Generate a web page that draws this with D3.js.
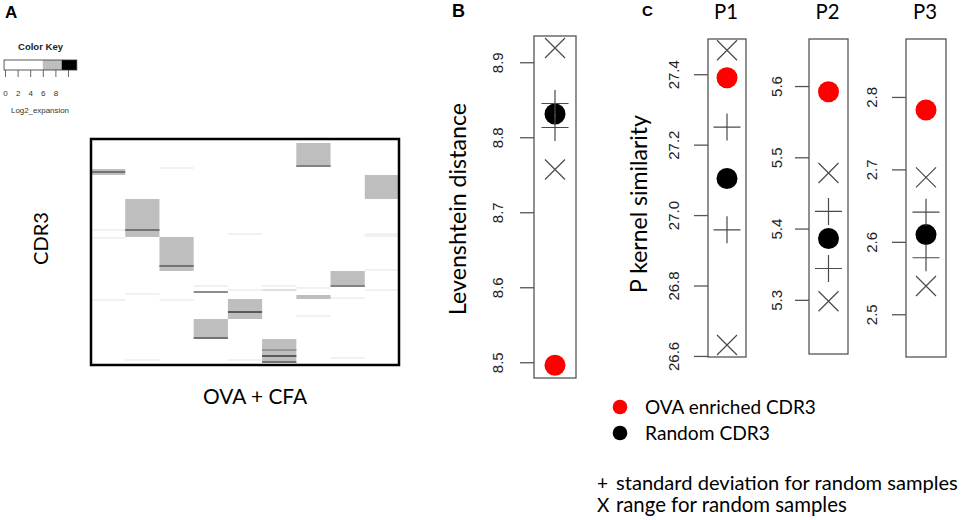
<!DOCTYPE html>
<html><head><meta charset="utf-8">
<script src="https://cdn.jsdelivr.net/npm/d3@7"></script>
<style>body{margin:0;background:#fff}svg{display:block}</style>
</head><body><svg id="c" width="965" height="520"></svg>
<script>
// ================= DATA =================
// Panel A: heatmap of CDR3 clonotypes (rows) per sample column
const heatColumns = 9;
const heatRows = 113;
// stripes: [column, firstRow, endRow(exclusive), log2 expansion]
const heatStripes = [
  [0,45,46,4],[0,49,50,4],[0,80,81,4],[0,15,18,7],[0,16,17,8.5],
  [1,77,78,4],[1,110,111,4],[1,30,49,7],[1,45,46,8.5],
  [2,14,15,4],[2,80,81,4],[2,49,66,7],[2,63,64,8.5],
  [3,73,74,4],[3,76,77,8],[3,90,100,7],[3,99,100,8.5],
  [4,47,48,4],[4,75,76,4],[4,110,111,4],[4,80,90,7],[4,86,87,9],
  [5,73,74,4],[5,75,76,5],[5,100,112,7],[5,105,106,7.8],[5,108,109,9],[5,111,112,8.5],
  [6,74,75,4],[6,88,89,4],[6,2,14,7],[6,78,80,7],[6,13,14,8.2],
  [7,79,80,4],[7,109,110,4],[7,66,74,7],[7,73,74,8.2],
  [8,47,48,4],[8,48,49,4],[8,65,66,4],[8,75,76,4],[8,18,30,7]
];
const keyBreaks = [-0.15, 6, 9, 11.4];
const keyTicks = [0, 2, 4, 6, 8, 10];
const keyTickLabels = ["0", "2", "4", "6", "8", ""];

// Panels B and C: dot plots
const panelTitles = ["", "P1", "P2", "P3"];
const ovaEnriched = [8.496, 27.390, 5.592, 2.782];
const randomMean  = [8.831, 27.104, 5.386, 2.610];
const sdUpper     = [8.845, 27.250, 5.424, 2.641];
const sdLower     = [8.813, 26.958, 5.344, 2.578];
const rangeMax    = [8.919, 27.468, 5.478, 2.689];
const rangeMin    = [8.757, 26.631, 5.298, 2.539];
const axisLow     = [8.479, 26.597, 5.224, 2.441];
const axisHigh    = [8.935, 27.500, 5.666, 2.880];
const panelTicks  = [
  [8.5, 8.6, 8.7, 8.8, 8.9],
  [26.6, 26.8, 27.0, 27.2, 27.4],
  [5.3, 5.4, 5.5, 5.6],
  [2.5, 2.6, 2.7, 2.8]
];
const legendLabels = ["OVA enriched CDR3", "Random CDR3"];
const noteSymbols = ["+", "X"];
const noteLabels = ["standard deviation for random samples", "range for random samples"];

// ================= DRAWING =================
const svg = d3.select("#c");
svg.append("rect").attr("width",965).attr("height",520).attr("fill","#fff");
const SANS = "Lato, 'Open Sans', sans-serif";
const ARIAL = "'Liberation Sans', Arial, sans-serif";

function fit(sel, target){
  const w = sel.node().getComputedTextLength();
  const fs = parseFloat(sel.attr("font-size"));
  sel.attr("font-size", (fs*target/w).toFixed(2));
  return sel;
}

// ---- Panel letters ----
svg.append("text").attr("x",5).attr("y",18).attr("font-family",ARIAL).attr("font-weight","bold").attr("font-size",17).text("A");
svg.append("text").attr("x",452).attr("y",17).attr("font-family",ARIAL).attr("font-weight","bold").attr("font-size",18).text("B");
svg.append("text").attr("x",642).attr("y",16).attr("font-family",ARIAL).attr("font-weight","bold").attr("font-size",15).text("C");

// ---- Color key ----
const kx = d3.scaleLinear().domain([0,10]).range([5,68]);
const keyColors = ["#ffffff","#bebebe","#000000"];
const keyG = svg.append("g");
keyG.selectAll("rect.seg").data(d3.range(keyBreaks.length-1)).join("rect")
  .attr("class","seg")
  .attr("x",i=>kx(keyBreaks[i])).attr("width",i=>kx(keyBreaks[i+1])-kx(keyBreaks[i]))
  .attr("y",60).attr("height",10).attr("fill",i=>keyColors[i]);
keyG.append("rect").attr("x",kx(keyBreaks[0])).attr("y",60)
  .attr("width",kx(keyBreaks[keyBreaks.length-1])-kx(keyBreaks[0])).attr("height",10)
  .attr("fill","none").attr("stroke","#333").attr("stroke-width",0.8);
const keyAxis = keyG.append("g").attr("transform","translate(0,70)")
  .call(d3.axisBottom(kx).tickValues(keyTicks).tickSize(7).tickPadding(13)
        .tickFormat((d,i)=>keyTickLabels[i]));
keyAxis.select(".domain").remove();
keyAxis.selectAll(".tick line").attr("stroke","#444").attr("stroke-width",0.8);
keyAxis.selectAll(".tick text").attr("font-size",8).attr("font-family",ARIAL).attr("fill","#333");
const ck = svg.append("text").attr("x",40.5).attr("y",50).attr("text-anchor","middle")
  .attr("font-family",ARIAL).attr("font-weight","bold").attr("font-size",9).attr("fill","#222").text("Color Key");
fit(ck,45);
const lg = svg.append("text").attr("x",11).attr("y",113)
  .attr("font-family",ARIAL).attr("font-size",8).attr("fill","#333").text("Log2_expansion");
fit(lg,58);

// ---- Heatmap ----
const hx = d3.scaleBand().domain(d3.range(heatColumns)).range([91,399]);
const hy = d3.scaleLinear().domain([0,heatRows]).range([139,365]);
const heatColor = d3.scaleLinear().domain([0,4,7,9])
  .range(["#ffffff","#f1f1f1","#bebebe","#5a5a5a"]);
const stripes = heatStripes.map(s=>({c:s[0],r0:s[1],r1:s[2],v:s[3]}))
  .sort((a,b)=>a.v-b.v);
svg.append("g").selectAll("rect").data(stripes).join("rect")
  .attr("x",d=>hx(d.c)).attr("width",hx.bandwidth())
  .attr("y",d=>hy(d.r0)).attr("height",d=>hy(d.r1)-hy(d.r0))
  .attr("fill",d=>heatColor(d.v));
svg.append("rect").attr("x",hx.range()[0]).attr("y",hy.range()[0])
  .attr("width",hx.range()[1]-hx.range()[0]).attr("height",hy.range()[1]-hy.range()[0])
  .attr("fill","none").attr("stroke","#000").attr("stroke-width",2.5);
const cdr = svg.append("text").attr("transform","translate(48,238.5) rotate(-90)")
  .attr("text-anchor","middle").attr("font-family",SANS).attr("font-size",22).text("CDR3");
fit(cdr,53);
const ova = svg.append("text").attr("x",255).attr("y",404).attr("text-anchor","middle")
  .attr("font-family",SANS).attr("font-size",20).text("OVA + CFA");
fit(ova,104);

// ---- Dot plot panels ----
const layout = [
  {x0:534,x1:576,y0:36,y1:378,off:31},
  {x0:708,x1:746,y0:39,y1:357,off:29},
  {x0:809,x1:848,y0:39,y1:354,off:27},
  {x0:906,x1:946,y0:39,y1:357,off:29}
];
const GRAY = "#4a4a4a";
layout.forEach((L,i)=>{
  const y = d3.scaleLinear().domain([axisLow[i],axisHigh[i]]).range([L.y1,L.y0]);
  const cx = (L.x0+L.x1)/2;
  const g = svg.append("g");
  g.append("rect").attr("x",L.x0).attr("y",L.y0).attr("width",L.x1-L.x0).attr("height",L.y1-L.y0)
    .attr("fill","none").attr("stroke","#555").attr("stroke-width",1.3);
  const ax = g.append("g").attr("transform",`translate(${L.x0},0)`)
    .call(d3.axisLeft(y).tickValues(panelTicks[i]).tickSize(14).tickFormat(d3.format(".1f")));
  ax.select(".domain").remove();
  ax.selectAll(".tick line").attr("stroke","#555").attr("stroke-width",1.3);
  ax.selectAll(".tick text").attr("x",null).attr("dy",null)
    .attr("transform",`translate(${-L.off},0) rotate(-90)`)
    .attr("text-anchor","middle").attr("font-family",ARIAL).attr("font-size",15).attr("fill","#222");
  // range X markers
  [rangeMax[i],rangeMin[i]].forEach(v=>{
    const s=10, yy=y(v);
    g.append("path").attr("d",`M${cx-s},${yy-s}L${cx+s},${yy+s}M${cx-s},${yy+s}L${cx+s},${yy-s}`)
      .attr("stroke",GRAY).attr("stroke-width",1.2).attr("fill","none");
  });
  // dots
  g.append("circle").attr("cx",cx).attr("cy",y(ovaEnriched[i])).attr("r",10.5).attr("fill","#ff0000");
  g.append("circle").attr("cx",cx).attr("cy",y(randomMean[i])).attr("r",10.5).attr("fill","#000");
  // sd + markers
  [sdUpper[i],sdLower[i]].forEach(v=>{
    const s=13.5, yy=y(v);
    g.append("path").attr("d",`M${cx-s},${yy}L${cx+s},${yy}M${cx},${yy-s}L${cx},${yy+s}`)
      .attr("stroke",GRAY).attr("stroke-width",1.2).attr("fill","none");
  });
  if(panelTitles[i]){
    const t = g.append("text").attr("x",cx-1).attr("y",19).attr("text-anchor","middle")
      .attr("font-family",SANS).attr("font-size",20).text(panelTitles[i]);
    fit(t,24);
  }
});
const lev = svg.append("text").attr("transform","translate(466,209) rotate(-90)")
  .attr("text-anchor","middle").attr("font-family",SANS).attr("font-size",24).text("Levenshtein distance");
fit(lev,212);
const pk = svg.append("text").attr("transform","translate(647,204) rotate(-90)")
  .attr("text-anchor","middle").attr("font-family",SANS).attr("font-size",24).text("P kernel similarity");
fit(pk,178);

// ---- Legend ----
const legColors = ["#ff0000","#000000"];
const legY = [407, 433];
const legW = [171, 125];
legendLabels.forEach((lab,i)=>{
  svg.append("circle").attr("cx",620).attr("cy",legY[i]).attr("r",7.3).attr("fill",legColors[i]);
  const t = svg.append("text").attr("x",645).attr("y",legY[i]+7).attr("font-family",SANS)
    .attr("font-size",20).text(lab);
  fit(t,legW[i]);
});
const noteY = [490, 512];
const noteW = [342, 231];
noteLabels.forEach((lab,i)=>{
  svg.append("text").attr("x",597).attr("y",noteY[i]).attr("font-family",SANS)
    .attr("font-size",19).text(noteSymbols[i]);
  const t = svg.append("text").attr("x",616).attr("y",noteY[i]).attr("font-family",SANS)
    .attr("font-size",19).text(lab);
  fit(t,noteW[i]);
});
</script></body></html>
